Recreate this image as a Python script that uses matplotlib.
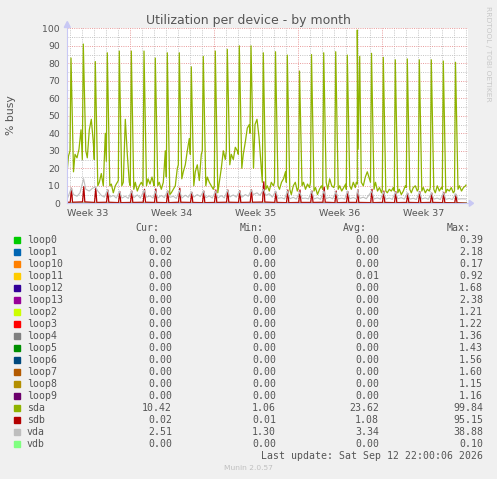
import numpy as np
import matplotlib
matplotlib.use('Agg')
import matplotlib.pyplot as plt
from matplotlib.patches import Polygon, Rectangle

# ---- data (hours from left edge of the month graph) ----
week_labels = ['Week 33', 'Week 34', 'Week 35', 'Week 36', 'Week 37']
week_starts = [126, 294, 462, 630]

sda_spike_hours = [8, 32.6, 56.6, 80.6, 104.6, 128.6, 154, 176.6, 200.6, 224.6, 248.6,
                   272.6, 296.6, 320.6, 344.6, 368, 392.6, 417, 440.6, 465, 489, 513.4,
                   537.4, 560.6, 580.6, 609, 632.6, 656.6, 680.6, 704.6, 728.6, 752.6, 777]
sda_peak = [83, 91, 81, 86, 87, 87, 87, 83, 86, 86, 78, 84, 87, 88, 90, 90, 86, 86.6,
            84.7, 75.6, 85, 86, 86.6, 84.7, 99, 85.7, 83.4, 82, 82.5, 82, 82, 81.3, 80.6]
sda_pre = [30, 25, 25, 24, 13, 10, 10, 12, 15, 22, 28, 30, 10, 30, 28, 40, 12, 12, 12,
           9, 12, 8, 11, 8, 12, 12, 8, 7, 9, 8, 9, 8, 7]
sda_between = [
    [18, 28, 26, 31, 42], [30, 26, 42, 48, 35], [10, 12, 17, 10, 40], [10, 11, 6, 10, 12],
    [10, 12, 48, 28, 12], [8, 12, 7, 10, 12], [10, 14, 11, 15, 10], [10, 12, 8, 12, 30],
    [5, 6, 8, 10, 20], [14, 18, 22, 30, 37], [10, 18, 22, 13, 28], [10, 15, 12, 10, 8],
    [6, 12, 20, 30, 25], [22, 28, 25, 32, 30], [20, 28, 35, 43, 45], [20, 45, 48, 38, 22],
    [8, 10, 7, 12, 10], [10, 8, 12, 14, 18], [8, 5, 10, 12, 7], [10, 12, 8, 11, 9],
    [7, 9, 5, 8, 10], [12, 8, 14, 10, 9], [8, 10, 7, 9, 11], [10, 8, 12, 9, 11],
    [np.nan, 12, 10, 15, 18], [8, 12, 7, 9, 6], [7, 6, 8, 7, 9], [6, 8, 5, 7, 10],
    [8, 6, 9, 10, 7], [7, 9, 6, 8, 7], [8, 6, 10, 7, 9], [6, 8, 7, 9, 6], [8, 10, 7, 9, 10],
]
between_offsets = [5, 8, 12, 16, 20]
sda_start = [17, 27]
sda_double_hours = [582.2, 585.4]
sda_double_vals = [31, 84]
sda_last = 10.42

sdb_peak = [8.6, 9.5, 8.6, 7.6, 6.7, 7, 8, 8.2, 7, 8.6, 6.3, 7, 7.6, 7.6, 7.2, 7.6, 12.3,
            6.3, 7.6, 7.6, 7, 9.2, 7, 6.7, 7.6, 8, 7, 6.7, 5.5, 6.7, 5.8, 6.3, 4.8]
sdb_base = [0.6, 0.8, 0.5, 0.6, 0.4, 0.5, 0.6, 0.5, 0.4, 0.6, 0.5, 0.4, 0.5, 0.6, 0.5, 0.6,
            0.7, 0.5, 0.4, 0.5, 0.5, 0.6, 0.4, 0.5, 0.5, 0.4, 0.5, 0.4, 0.5, 0.4, 0.5, 0.4, 0.3]

vda_peak = [8.6, 14, 9.5, 7.6, 7, 7, 7.5, 7, 7, 7.5, 6.5, 7, 7, 7.5, 7, 7.5, 8, 7, 7, 6.5,
            7, 7, 6.5, 7, 7.5, 7, 6.5, 6.5, 6, 6.5, 6, 6, 5.5]
vda_rest = [
    [5, 4, 6], [8, 7, 8.5], [7, 4.5, 3.5], [3.5, 4.5, 3], [3, 4, 2.8], [3.2, 4.8, 3],
    [3.5, 4.2, 3], [3, 4.5, 3.2], [3.4, 4, 2.8], [3, 4.6, 3.4], [3.5, 5, 3.8], [3.2, 4.2, 3],
    [3, 4.4, 3.1], [3.6, 4.8, 3.5], [3.4, 5, 4], [5, 6, 4.5], [4.5, 5.5, 3.5], [2.8, 3.2, 2.5],
    [2.6, 3.4, 2.4], [2.8, 3, 2.5], [2.5, 3.2, 2.3], [2.7, 3.4, 2.6], [2.5, 3, 2.4],
    [2.6, 3.3, 2.5], [2.8, 3.5, 2.6], [2.5, 3.1, 2.4], [2.4, 3, 2.3], [2.6, 3.2, 2.4],
    [2.4, 2.9, 2.2], [2.5, 3.1, 2.3], [2.4, 3, 2.2], [2.3, 2.8, 2.2], [2.4, 2.6, 2.5],
]
vda_start = 2.0

names = ['loop0', 'loop1', 'loop10', 'loop11', 'loop12', 'loop13', 'loop2', 'loop3', 'loop4',
         'loop5', 'loop6', 'loop7', 'loop8', 'loop9', 'sda', 'sdb', 'vda', 'vdb']
colors = ['#00CC00', '#0066B3', '#FF8000', '#FFCC00', '#330099', '#990099', '#CCFF00',
          '#FF0000', '#808080', '#008F00', '#00487D', '#B35A00', '#B38F00', '#6B006B',
          '#8FB300', '#B30000', '#BEBEBE', '#80FF80']
cur_vals = [0.00, 0.02, 0.00, 0.00, 0.00, 0.00, 0.00, 0.00, 0.00, 0.00, 0.00, 0.00, 0.00,
            0.00, 10.42, 0.02, 2.51, 0.00]
min_vals = [0.00, 0.00, 0.00, 0.00, 0.00, 0.00, 0.00, 0.00, 0.00, 0.00, 0.00, 0.00, 0.00,
            0.00, 1.06, 0.01, 1.30, 0.00]
avg_vals = [0.00, 0.00, 0.00, 0.01, 0.00, 0.00, 0.00, 0.00, 0.00, 0.00, 0.00, 0.00, 0.00,
            0.00, 23.62, 1.08, 3.34, 0.00]
max_vals = [0.39, 2.18, 0.17, 0.92, 1.68, 2.38, 1.21, 1.22, 1.36, 1.43, 1.56, 1.60, 1.15,
            1.16, 99.84, 95.15, 38.88, 0.10]

END_HOUR = 798

# ---- build series ----
t_sda, v_sda = [0, 3], list(sda_start)
for k, s in enumerate(sda_spike_hours):
    t_sda += [s - 2, s]
    v_sda += [sda_pre[k], sda_peak[k]]
    for off, b in zip(between_offsets, sda_between[k]):
        t_sda.append(s + off)
        v_sda.append(b)
t_sda += sda_double_hours + [END_HOUR]
v_sda += sda_double_vals + [sda_last]
t_sda = np.array(t_sda, dtype=float)
v_sda = np.array(v_sda, dtype=float)
ok = ~np.isnan(v_sda)
order = np.argsort(t_sda[ok], kind='stable')
t_sda, v_sda = t_sda[ok][order], v_sda[ok][order]

t_sdb, v_sdb = [0], [sdb_base[0]]
for k, s in enumerate(sda_spike_hours):
    t_sdb += [s - 1.5, s + 1, s + 3]
    v_sdb += [sdb_base[k], sdb_peak[k], sdb_base[k]]
t_sdb.append(END_HOUR)
v_sdb.append(cur_vals[15])

t_vda, v_vda = [0], [vda_start]
for k, s in enumerate(sda_spike_hours):
    t_vda += [s + 0.5, s + 5, s + 12, s + 18]
    v_vda += [vda_peak[k]] + vda_rest[k]
t_vda.append(END_HOUR)
v_vda.append(cur_vals[16])

# ---- figure ----
W, H = 497, 479
fig = plt.figure(figsize=(W / 100, H / 100), dpi=100)
fig.patch.set_facecolor('#F0F0F0')

def fx(px):
    return px / W

def fy(py):
    return 1 - py / H

ax = fig.add_axes([fx(67), fy(203.3), 401 / W, 175 / H])
ax.set_facecolor('white')
ax.set_xlim(0, 802)
ax.set_ylim(0, 100)
for sp in ax.spines.values():
    sp.set_visible(False)
ax.set_xticks([])
ax.set_yticks([])

dots = (0, (1, 1.3))
for d in range(6, 802, 24):
    if d not in week_starts:
        ax.axvline(d, color='#C4C4C4', lw=0.7, ls=dots, zorder=1)
for y in range(5, 100, 10):
    ax.axhline(y, color='#C4C4C4', lw=0.7, ls=dots, zorder=1)
for y in range(10, 101, 10):
    ax.axhline(y, color='#E89A9A', lw=0.7, ls=dots, zorder=1)
for w in week_starts:
    ax.axvline(w, color='#E89A9A', lw=0.7, ls=dots, zorder=1)

# loops first (all at zero), then disks
for name, c in zip(names[:14], colors[:14]):
    ax.plot([0, END_HOUR], [0, 0], color=c, lw=0.8, zorder=2)
ax.plot(t_sda, v_sda, color=colors[14], lw=0.9, zorder=3)
ax.plot(t_sdb, v_sdb, color=colors[15], lw=0.9, zorder=4)
ax.plot(t_vda, v_vda, color=colors[16], lw=0.8, zorder=5)
ax.plot([0, END_HOUR], [0, 0], color=colors[17], lw=0.9, zorder=6)

# axis lines with arrows
axis_c = '#C8C8F4'
fig.add_artist(plt.Line2D([fx(67), fx(67)], [fy(203.3), fy(24)], color=axis_c, lw=0.8))
fig.add_artist(plt.Line2D([fx(67), fx(470)], [fy(203.3), fy(203.3)], color=axis_c, lw=0.8,
                          zorder=0))
fig.add_artist(Polygon([[fx(64.3), fy(27.5)], [fx(70.3), fy(27.5)], [fx(67.3), fy(21.5)]],
                       closed=True, color=axis_c, transform=fig.transFigure))
fig.add_artist(Polygon([[fx(469.3), fy(200.3)], [fx(469.3), fy(206.3)], [fx(473.5), fy(203.3)]],
                       closed=True, color=axis_c, transform=fig.transFigure))

txt = '#555555'
for y in range(0, 101, 10):
    ax.text(-7 / 401 * 802, y, str(y), ha='right', va='center_baseline', fontsize=6.7,
            color=txt)
week_mid = [week_starts[0] - 84] + [w + 84 for w in week_starts]
for xm, lab in zip(week_mid, week_labels):
    ax.text(xm, -12.7 / 1.75, lab, ha='center', va='baseline', fontsize=6.8, color=txt)

fig.text(fx(248.5), fy(24), 'Utilization per device - by month', ha='center', va='baseline',
         fontsize=9, color=txt)
fig.text(fx(10.7), fy(115), '% busy', rotation=90, ha='center', va='center', fontsize=7.8,
         color=txt)
fig.text(fx(487.7), fy(53.5), 'RRDTOOL / TOBI OETIKER', rotation=270, ha='center',
         va='center', fontsize=5.4, color='#C8C8C8')

# legend
mono = dict(family='DejaVu Sans Mono', fontsize=7.15, color=txt, va='baseline')
head_x = [159.5, 263.5, 366.5, 470.5]
val_x = [172, 276, 379, 483]
for hx, lab in zip(head_x, ['Cur:', 'Min:', 'Avg:', 'Max:']):
    fig.text(fx(hx), fy(231.3), lab, ha='right', **mono)
for i, name in enumerate(names):
    yb = 243.3 + 12 * i
    fig.add_artist(Rectangle((fx(14), fy(yb - 0.7)), 6 / W, 6 / H, color=colors[i],
                             transform=fig.transFigure))
    fig.text(fx(26.7), fy(yb), name, ha='left', **mono)
    for vx, vals in zip(val_x, [cur_vals, min_vals, avg_vals, max_vals]):
        fig.text(fx(vx), fy(yb), '%.2f' % vals[i], ha='right', **mono)
fig.text(fx(483), fy(459.3), 'Last update: Sat Sep 12 22:00:06 2026', ha='right', **mono)
fig.text(fx(248), fy(468.3), 'Munin 2.0.57', ha='center', va='center', fontsize=5.4,
         color='#C0C0C0')

fig.savefig('out.png', dpi=100, facecolor=fig.get_facecolor())
